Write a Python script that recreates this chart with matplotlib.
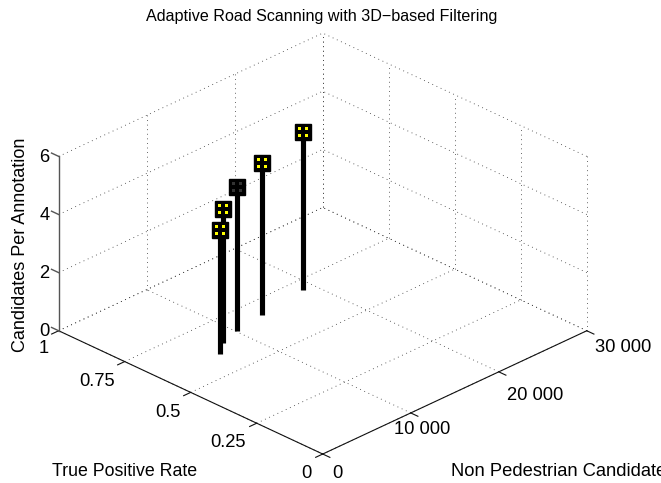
import numpy as np
import matplotlib
matplotlib.use('Agg')
import matplotlib.pyplot as plt
from matplotlib.path import Path
from mpl_toolkits.mplot3d import proj3d

# data
candidates = [18800, 13550, 10080, 7900, 6300]
tpr = [0.70, 0.68, 0.66, 0.64, 0.60]
per_annotation = [5.45, 5.2, 4.97, 4.6, 4.28]
dot_colors = ['yellow', 'yellow', '#333333', 'yellow', 'yellow']

x_ticks = [0, 10000, 20000, 30000]
x_labels = ['0', '10 000', '20 000', '30 000']
y_ticks = [0, 0.25, 0.5, 0.75, 1]
y_labels = ['0', '0.25', '0.5', '0.75', '1']
z_ticks = [0, 2, 4, 6]
z_labels = ['0', '2', '4', '6']

x_max, y_max, z_max = 30000, 1, 6

plt.rcParams['font.family'] = ['Liberation Sans', 'DejaVu Sans']

fig = plt.figure(figsize=(6.61, 4.83), dpi=100)
w, h = 661, 483
ax = fig.add_axes([74.7 / w, -8.6 / h, 483 / w, 1], projection='3d', computed_zorder=False)
ax.set_proj_type('ortho')
ax.view_init(elev=27.83, azim=-135)
ax.set_box_aspect((1, 1, 0.528), zoom=1.133)
ax.set_xlim(0, x_max, view_margin=0)
ax.set_ylim(0, y_max, view_margin=0)
ax.set_zlim(0, z_max, view_margin=0)
ax.set_axis_off()

grid = dict(color='#333333', linestyle=(0, (1, 4.5)), linewidth=0.6, zorder=1, clip_on=False)
solid = dict(color='#111111', linewidth=0.8, zorder=2, clip_on=False)
zaxis = dict(color='#555555', linewidth=1.0, zorder=2, clip_on=False)

# floor grid
for x in x_ticks:
    ax.plot([x, x], [0, y_max], [0, 0], **grid)
for y in y_ticks:
    ax.plot([0, x_max], [y, y], [0, 0], **grid)
# back walls
for z in z_ticks:
    ax.plot([0, x_max], [y_max, y_max], [z, z], **grid)
    ax.plot([x_max, x_max], [0, y_max], [z, z], **grid)
for x in x_ticks:
    ax.plot([x, x], [y_max, y_max], [0, z_max], **grid)
for y in y_ticks:
    ax.plot([x_max, x_max], [y, y], [0, z_max], **grid)

# solid axes
ax.plot([0, x_max], [0, 0], [0, 0], **solid)
ax.plot([0, 0], [0, y_max], [0, 0], **solid)
ax.plot([0, 0], [y_max, y_max], [0, z_max], **zaxis)

# tick marks, outward only
for x in x_ticks:
    ax.plot([x, x], [0, -0.027], [0, 0], **solid)
for y in y_ticks:
    ax.plot([0, -800], [y, y], [0, 0], **solid)
for z in z_ticks:
    ax.plot([0, 0], [y_max, y_max + 0.027], [z, z], **zaxis)

# four small squares inside each marker
four = []
codes = []
for sx in (-5.15, 1.55):
    for sy in (-5.15, 1.55):
        four += [(sx, sy), (sx + 3.6, sy), (sx + 3.6, sy + 3.6), (sx, sy + 3.6), (sx, sy)]
        codes += [Path.MOVETO, Path.LINETO, Path.LINETO, Path.LINETO, Path.CLOSEPOLY]
dots = Path(four, codes)

# stems, drawn from the back to the front
for i in range(len(candidates)):
    x, y, z = candidates[i], tpr[i], per_annotation[i]
    ax.plot([x, x], [y, y], [0, z], color='black', linewidth=3.7,
            solid_capstyle='butt', zorder=3 + i)
    ax.plot([x], [y], [z], marker='s', color='black', markersize=11,
            linestyle='none', zorder=3 + i)
    ax.plot([x], [y], [z], marker=dots, color=dot_colors[i], markersize=7.4,
            markeredgewidth=0, linestyle='none', zorder=3 + i)

fig.canvas.draw()
proj = ax.get_proj()


def tick_text(x, y, z, label, dx, dy):
    px, py, _ = proj3d.proj_transform(x, y, z, proj)
    ax.annotate(label, (px, py), xytext=(dx, dy), textcoords='offset pixels',
                ha='center', va='center', fontsize=13.2, annotation_clip=False)


x_offsets = [(15, -19), (11, -17), (36, -24), (36, -17)]
y_offsets = [(-16, -19), (-29, -19), (-23, -20), (-28, -20), (-15, -18)]
for t, lab, off in zip(x_ticks, x_labels, x_offsets):
    tick_text(t, 0, 0, lab, off[0], off[1])
for t, lab, off in zip(y_ticks, y_labels, y_offsets):
    tick_text(0, t, 0, lab, off[0], off[1])
for t, lab in zip(z_ticks, z_labels):
    tick_text(0, y_max, t, lab, -14, -1)

fig.text(322 / w, 1 - 16 / h, 'Adaptive Road Scanning with 3D\u2212based Filtering',
         ha='center', va='center', fontsize=11.6)
fig.text(21 / w, 1 - 245 / h, 'Candidates Per Annotation', rotation=90,
         ha='center', va='center', fontsize=13)
fig.text(125 / w, 1 - 471 / h, 'True Positive Rate', ha='center', va='center', fontsize=12.8)
fig.text(451 / w, 1 - 471 / h, 'Non Pedestrian Candidates', ha='left', va='center', fontsize=13.2)

fig.savefig('out.png', dpi=100)
